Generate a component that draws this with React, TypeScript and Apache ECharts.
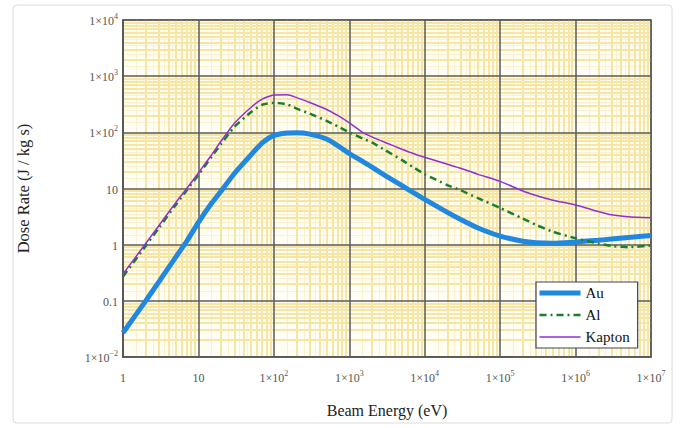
import React, { useEffect, useRef } from "react";
import * as echarts from "echarts";

const energy = [1, 2, 3, 5, 7, 10, 15, 20, 30, 50, 70, 100, 150, 200, 300, 500, 700, 1000, 1500, 2000, 3000, 5000, 7000, 1e4, 2e4, 3e4, 5e4, 1e5, 2e5, 3e5, 5e5, 1e6, 2e6, 3e6, 5e6, 1e7];
const au = [0.027, 0.1, 0.22, 0.6, 1.15, 2.5, 5.5, 9, 18.5, 40, 65, 88, 97, 98, 93, 76, 58, 42, 30.5, 24, 17, 11.2, 8.5, 6.4, 3.75, 2.8, 2.0, 1.42, 1.15, 1.08, 1.06, 1.12, 1.2, 1.26, 1.34, 1.45];
const al = [0.27, 0.95, 2.0, 5.1, 9.3, 17.5, 37, 62, 125, 230, 310, 335, 315, 265, 215, 160, 128, 100, 78, 66, 48, 32, 24, 18, 11.5, 9.3, 6.8, 4.5, 2.9, 2.25, 1.7, 1.3, 1.05, 0.95, 0.9, 0.97];
const kapton = [0.3, 1.05, 2.2, 5.6, 10, 19, 40, 70, 145, 280, 390, 460, 465, 415, 340, 255, 200, 148, 100, 83, 66, 50, 42, 36, 27, 23, 18, 13.4, 9, 7.5, 6.2, 5.1, 3.9, 3.4, 3.15, 3.0];

const seriesNames = ["Au", "Al", "Kapton"];
const xDecades = [1, 10, 100, 1e3, 1e4, 1e5, 1e6];
const yDecades = [0.01, 0.1, 1, 10, 100, 1e3];
const minorSteps = [2, 3, 4, 5, 6, 7, 8, 9];
const halfSteps = [1.5, 2.5, 3.5, 4.5];

const SERIF = "serif";

function tickLabel(v: number): string {
  const e = Math.round(Math.log10(v));
  if (e === 0) return "{n|1}";
  if (e === 1) return "{n|10}";
  if (e === -1) return "{n|0.1}";
  const es = e < 0 ? "\u2212" + -e : String(e);
  return "{n|1\u00d710}{s|" + es + "}";
}

const rich = {
  n: { fontSize: 12, fontFamily: SERIF, color: "#555", verticalAlign: "bottom", lineHeight: 14 },
  s: { fontSize: 8, fontFamily: SERIF, color: "#555", verticalAlign: "bottom", lineHeight: 8, padding: [0, 0, 7, 0] },
};

export default function App() {
  const ref = useRef<HTMLDivElement>(null);
  useEffect(() => {
    if (!ref.current) return;
    const chart = echarts.init(ref.current, undefined, { renderer: "svg" });
    const xMinor: number[] = [];
    xDecades.forEach((d) => minorSteps.forEach((m) => xMinor.push(d * m)));
    const yMinor: number[] = [];
    yDecades.forEach((d) => minorSteps.forEach((m) => yMinor.push(d * m)));
    const xHalf: number[] = [];
    xDecades.forEach((d) => halfSteps.forEach((m) => xHalf.push(d * m)));
    const yHalf: number[] = [];
    yDecades.forEach((d) => halfSteps.forEach((m) => yHalf.push(d * m)));

    const mk = (vals: number[], key: string) => vals.map((v) => ({ [key]: v }));
    const halfStyle = { color: "#fbf1cc", width: 1, type: "solid" };

    chart.setOption({
      animation: false,
      backgroundColor: "#ffffff",
      textStyle: { fontFamily: SERIF },
      grid: {
        left: 123,
        right: 30,
        top: 20,
        bottom: 71,
        show: true,
        backgroundColor: "#fffdf4",
        borderColor: "#555",
        borderWidth: 1.5,
      },
      graphic: [
        {
          type: "rect",
          z: -1,
          shape: { x: 13, y: 5, width: 659, height: 418, r: 4 },
          style: { fill: "none", stroke: "#dcdcdc", lineWidth: 1 },
        },
      ],
      legend: {
        data: [
          { name: "Au", lineStyle: { width: 5 } },
          { name: "Al", lineStyle: { width: 2.5, type: [7, 4, 2, 4] } },
          { name: "Kapton", lineStyle: { width: 1.5 } },
        ],
        orient: "vertical",
        left: 536,
        top: 282,
        padding: [3, 8, 3, 1],
        itemWidth: 41,
        itemHeight: 14,
        itemGap: 6,
        itemStyle: { opacity: 0 },
        backgroundColor: "#ffffff",
        borderColor: "#444",
        borderWidth: 1.2,
        borderRadius: 0,
        textStyle: { fontFamily: SERIF, fontSize: 15, color: "#111", lineHeight: 16 },
      },
      xAxis: {
        type: "log",
        logBase: 10,
        min: 1,
        max: 1e7,
        splitNumber: 7,
        z: 2,
        name: "Beam Energy (eV)",
        nameLocation: "middle",
        nameGap: 45,
        nameTextStyle: { fontFamily: SERIF, fontSize: 16, color: "#222" },
        axisLine: { show: true, lineStyle: { color: "#555", width: 1.5 } },
        axisTick: { show: false },
        axisLabel: { margin: 13, fontFamily: SERIF, fontSize: 12, color: "#555", formatter: tickLabel, rich },
        splitLine: { show: true, lineStyle: { color: "#5a5a5a", width: 1.5 } },
      },
      yAxis: {
        type: "log",
        logBase: 10,
        min: 0.01,
        max: 1e4,
        splitNumber: 6,
        z: 2,
        name: "Dose Rate (J / kg s)",
        nameLocation: "middle",
        nameRotate: 90,
        nameGap: 91,
        nameTextStyle: { fontFamily: SERIF, fontSize: 16.5, color: "#222" },
        axisLine: { show: true, lineStyle: { color: "#555", width: 1.5 } },
        axisTick: { show: false },
        axisLabel: { margin: 5, fontFamily: SERIF, fontSize: 12, color: "#555", formatter: tickLabel, rich },
        splitLine: { show: true, lineStyle: { color: "#5a5a5a", width: 1.5 } },
      },
      series: [
        {
          name: "minorGrid",
          type: "line",
          data: [[1, 1]],
          showSymbol: false,
          symbol: "none",
          silent: true,
          lineStyle: { opacity: 0 },
          z: 1,
          markLine: {
            silent: true,
            z: 1,
            symbol: ["none", "none"],
            label: { show: false },
            animation: false,
            lineStyle: { color: "#f7e5a4", width: 2, type: "solid" },
            data: [
              ...mk(xHalf, "xAxis").map((d) => ({ ...d, lineStyle: halfStyle })),
              ...mk(yHalf, "yAxis").map((d) => ({ ...d, lineStyle: halfStyle })),
              ...mk(xMinor, "xAxis"),
              ...mk(yMinor, "yAxis"),
            ],
          },
        },
        {
          name: seriesNames[0],
          type: "line",
          data: energy.map((e, i) => [e, au[i]]),
          showSymbol: false,
          symbol: "none",
          smooth: 0.2,
          z: 3,
          color: "#2188e0",
          lineStyle: { color: "#2188e0", width: 5 },
        },
        {
          name: seriesNames[1],
          type: "line",
          data: energy.map((e, i) => [e, al[i]]),
          showSymbol: false,
          symbol: "none",
          smooth: 0.2,
          z: 4,
          color: "#17802f",
          lineStyle: { color: "#17802f", width: 2.5, type: [7, 4, 2, 4] },
        },
        {
          name: seriesNames[2],
          type: "line",
          data: energy.map((e, i) => [e, kapton[i]]),
          showSymbol: false,
          symbol: "none",
          smooth: 0.2,
          z: 5,
          color: "#8f2fd6",
          lineStyle: { color: "#8f2fd6", width: 1.5 },
        },
      ],
    });
    return () => chart.dispose();
  }, []);
  return (
    <div
      ref={ref}
      style={{ position: "fixed", left: 0, top: 0, width: 681, height: 428 }}
    />
  );
}
